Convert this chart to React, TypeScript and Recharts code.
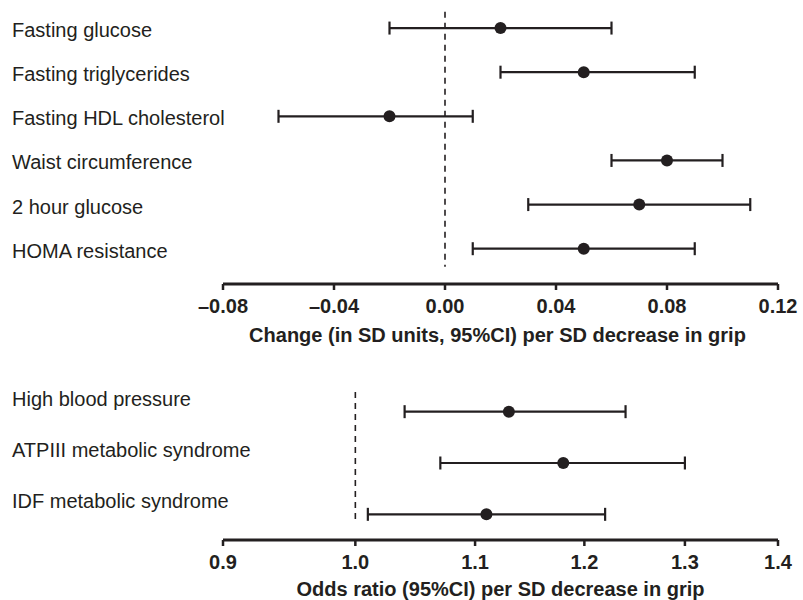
import {
  ErrorBar,
  ReferenceLine,
  Scatter,
  ScatterChart,
  XAxis,
  YAxis,
} from "recharts";

const INK = "#231f20";
const FONT = "'Liberation Sans', Arial, Helvetica, sans-serif";

// top panel: change in SD units
const traitLabels = [
  "Fasting glucose",
  "Fasting triglycerides",
  "Fasting HDL cholesterol",
  "Waist circumference",
  "2 hour glucose",
  "HOMA resistance",
];
const traitEst = [0.02, 0.05, -0.02, 0.08, 0.07, 0.05];
const traitLow = [-0.02, 0.02, -0.06, 0.06, 0.03, 0.01];
const traitHigh = [0.06, 0.09, 0.01, 0.1, 0.11, 0.09];
const traitTicks = [-0.08, -0.04, 0, 0.04, 0.08, 0.12];

// bottom panel: odds ratios
const outcomeLabels = [
  "High blood pressure",
  "ATPIII metabolic syndrome",
  "IDF metabolic syndrome",
];
const outcomeEst = [1.13, 1.18, 1.11];
const outcomeLow = [1.04, 1.07, 1.01];
const outcomeHigh = [1.24, 1.3, 1.22];
const oddsTicks = [0.9, 1.0, 1.1, 1.2, 1.3, 1.4];

const toRows = (est: number[], low: number[], high: number[]) =>
  est.map((v, i) => ({ row: i, est: v, err: [v - low[i], high[i] - v] }));

const traitRows = toRows(traitEst, traitLow, traitHigh);
const outcomeRows = toRows(outcomeEst, outcomeLow, outcomeHigh);

const fmtChange = (v: number) =>
  v < 0 ? "\u2013" + Math.abs(v).toFixed(2) : v.toFixed(2);

const Dot = (props: any) => (
  <circle cx={props.cx} cy={props.cy} r={6} fill={INK} />
);

const rowTick = (labels: string[], dy: number) => (props: any) => {
  const { y, payload } = props;
  return (
    <text
      x={12}
      y={y + dy}
      fill={INK}
      fontSize={20}
      fontFamily={FONT}
      textAnchor="start"
    >
      {labels[payload.value]}
    </text>
  );
};

const xTickStyle = { fill: INK, fontSize: 20, fontWeight: "bold", fontFamily: FONT };

export default function App() {
  return (
    <div style={{ position: "absolute", left: 0, top: 0, fontFamily: FONT }}>
      <ScatterChart
        width={803}
        height={350}
        margin={{ top: 6, right: 25, bottom: 0, left: 0 }}
      >
        <XAxis
          type="number"
          dataKey="est"
          domain={[-0.08, 0.12]}
          ticks={traitTicks}
          tickFormatter={fmtChange}
          height={66}
          axisLine={{ stroke: INK, strokeWidth: 3 }}
          tickLine={{ stroke: INK, strokeWidth: 2.5 }}
          tickSize={6}
          tickMargin={9}
          tick={xTickStyle}
          interval={0}
          label={{
            value: "Change (in SD units, 95%CI) per SD decrease in grip",
            position: "insideBottom",
            offset: 8,
            dx: -3,
            fill: INK,
            fontSize: 20,
            fontWeight: "bold",
            fontFamily: FONT,
          }}
        />
        <YAxis
          type="number"
          dataKey="row"
          domain={[-0.5, 5.8]}
          reversed
          ticks={[0, 1, 2, 3, 4, 5]}
          interval={0}
          width={223}
          axisLine={false}
          tickLine={false}
          tick={rowTick(traitLabels, 9)}
        />
        <ReferenceLine
          segment={[
            { x: 0, y: -0.37 },
            { x: 0, y: 5.41 },
          ]}
          stroke={INK}
          strokeWidth={1.6}
          strokeDasharray="6 5"
        />
        <Scatter data={traitRows} shape={Dot} isAnimationActive={false}>
          <ErrorBar
            dataKey="err"
            direction="x"
            width={6.5}
            stroke={INK}
            strokeWidth={2.2}
            isAnimationActive={false}
          />
        </Scatter>
      </ScatterChart>
      <ScatterChart
        width={803}
        height={250}
        margin={{ top: 36, right: 25, bottom: 0, left: 0 }}
      >
        <XAxis
          type="number"
          dataKey="est"
          scale="log"
          domain={[0.9, 1.4]}
          ticks={oddsTicks}
          tickFormatter={(v: number) => v.toFixed(1)}
          height={60}
          axisLine={{ stroke: INK, strokeWidth: 3 }}
          tickLine={{ stroke: INK, strokeWidth: 2.5 }}
          tickSize={6}
          tickMargin={9}
          tick={xTickStyle}
          interval={0}
          allowDataOverflow
          label={{
            value: "Odds ratio (95%CI) per SD decrease in grip",
            position: "insideBottom",
            offset: 4,
            fill: INK,
            fontSize: 20,
            fontWeight: "bold",
            fontFamily: FONT,
          }}
        />
        <YAxis
          type="number"
          dataKey="row"
          domain={[-0.5, 2.5]}
          reversed
          ticks={[0, 1, 2]}
          interval={0}
          width={223}
          axisLine={false}
          tickLine={false}
          tick={rowTick(outcomeLabels, -6)}
        />
        <ReferenceLine
          segment={[
            { x: 1, y: -0.385 },
            { x: 1, y: 2.1 },
          ]}
          stroke={INK}
          strokeWidth={1.6}
          strokeDasharray="6 5"
        />
        <Scatter data={outcomeRows} shape={Dot} isAnimationActive={false}>
          <ErrorBar
            dataKey="err"
            direction="x"
            width={6.5}
            stroke={INK}
            strokeWidth={2.2}
            isAnimationActive={false}
          />
        </Scatter>
      </ScatterChart>
    </div>
  );
}
